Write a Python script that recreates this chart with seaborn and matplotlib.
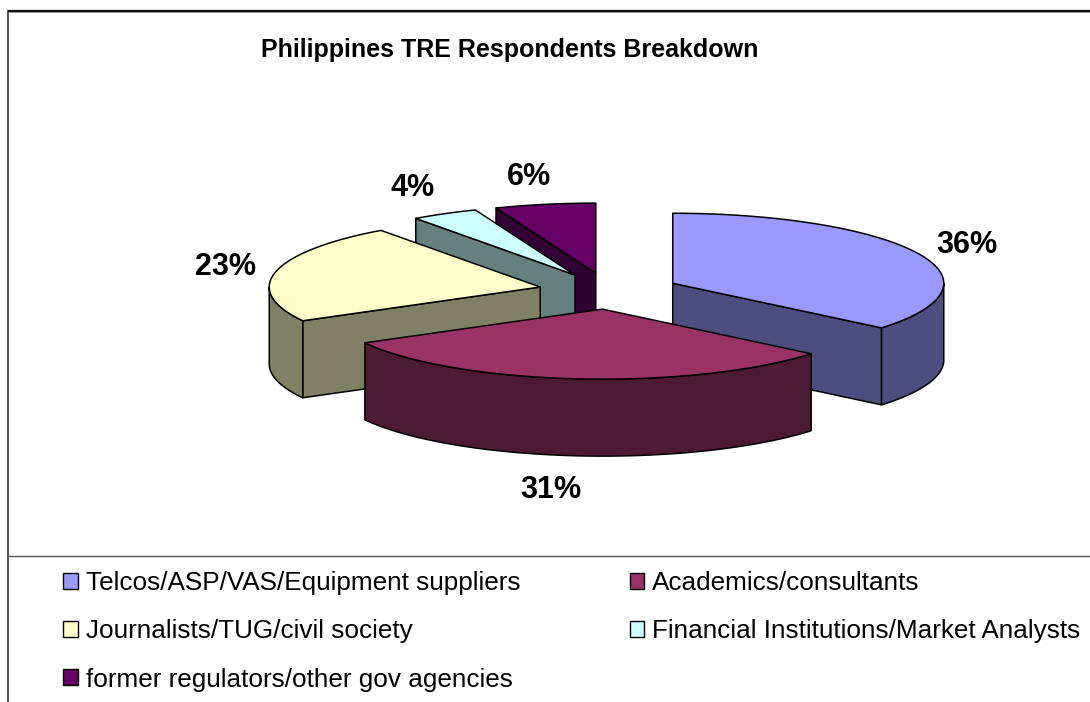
import numpy as np
import matplotlib
matplotlib.use("Agg")
import matplotlib.pyplot as plt
from matplotlib.patches import Polygon, Patch
from matplotlib.colors import to_rgb
import seaborn as sns

# ---- data -------------------------------------------------------------
title = "Philippines TRE Respondents Breakdown"
categories = [
    "Telcos/ASP/VAS/Equipment suppliers",
    "Academics/consultants",
    "Journalists/TUG/civil society",
    "Financial Institutions/Market Analysts",
    "former regulators/other gov agencies",
]
shares = [36, 31, 23, 4, 6]
top_colors = ["#9999FF", "#993366", "#FFFFCC", "#CCFFFF", "#660066"]

# ---- style ------------------------------------------------------------
sns.set_theme(style="white")
plt.rcParams["font.family"] = ["Liberation Sans", "DejaVu Sans"]
plt.rcParams["text.color"] = "black"

W, H = 1090, 702
fig = plt.figure(figsize=(W / 100, H / 100), dpi=100)
ax = fig.add_axes([0, 0, 1, 1])
ax.set_xlim(0, W)
ax.set_ylim(H, 0)
ax.axis("off")

# chart frame: plot area above, legend area below
ax.plot([8, W + 5], [10.5, 10.5], color="#111111", lw=1.6, solid_capstyle="butt")
ax.plot([8, W + 5], [12, 12], color="#888888", lw=0.6, solid_capstyle="butt")
ax.plot([8, 8], [10, H + 5], color="#222222", lw=1.1, solid_capstyle="butt")
ax.plot([8, W + 5], [556, 556], color="#555555", lw=1.0, solid_capstyle="butt")

ax.text(510, 50, title, ha="center", va="center", fontsize=18,
        fontweight="bold", color="black")

# ---- 3D exploded pie geometry ----------------------------------------
CX, CY = 609, 291          # pie centre (pixels)
RA, RB = 271, 70           # projected ellipse semi-axes
DEPTH = 77                 # thickness of the pie
EXPLODE = 0.26             # explode distance as fraction of radius
LPAD = 20                  # label distance outside the rim
EDGE = dict(edgecolor="black", linewidth=1.1, joinstyle="round")


def rim(cx, cy, t_deg, dz=0.0):
    t = np.radians(t_deg)
    return np.column_stack([cx + RA * np.cos(t), cy - RB * np.sin(t) + dz])


vals = np.asarray(shares, dtype=float)
sweep = vals / vals.sum() * 360.0
ends = 90.0 - np.cumsum(sweep)          # clockwise from 12 o'clock
starts = ends + sweep

slices = []
for i, (lo, hi) in enumerate(zip(ends, starts)):
    mid = np.radians((lo + hi) / 2)
    scx = CX + EXPLODE * RA * np.cos(mid)
    scy = CY - EXPLODE * RB * np.sin(mid)
    slices.append((i, lo, hi, mid, scx, scy))

# paint back slices first
slices.sort(key=lambda s: -np.sin(s[3]))

for i, lo, hi, mid, scx, scy in slices:
    face = top_colors[i]
    side = tuple(np.array(to_rgb(face)) * 0.5)
    centre_top = np.array([[scx, scy]])
    centre_bot = np.array([[scx, scy + DEPTH]])

    # radial cut walls that face the viewer
    for ang, visible in ((lo, np.cos(np.radians(lo)) > 1e-6),
                         (hi, np.cos(np.radians(hi)) < -1e-6)):
        if visible:
            p_top = rim(scx, scy, [ang])
            p_bot = rim(scx, scy, [ang], DEPTH)
            quad = np.vstack([centre_top, p_top, p_bot, centre_bot])
            ax.add_patch(Polygon(quad, closed=True, facecolor=side, **EDGE))

    # curved outer wall on the front half of the ellipse
    a0, a1 = max(lo, -180.0), min(hi, 0.0)
    if a1 > a0:
        ts = np.linspace(a0, a1, 120)
        wall = np.vstack([rim(scx, scy, ts), rim(scx, scy, ts[::-1], DEPTH)])
        ax.add_patch(Polygon(wall, closed=True, facecolor=side, **EDGE))

    # top face
    ts = np.linspace(lo, hi, 200)
    top = np.vstack([centre_top, rim(scx, scy, ts)])
    ax.add_patch(Polygon(top, closed=True, facecolor=face, **EDGE))

    # percentage label outside the rim along the bisector
    c, s = np.cos(mid), np.sin(mid)
    lx = scx + (RA + LPAD) * c
    ly = scy - (RB + LPAD) * s + DEPTH * max(0.0, -s)
    if abs(c) <= 0.3:
        # labels straight above / below the pie sit a little to the left
        lx -= 0.09 * RA * (1.0 if s < 0 else 0.5)
    ha = "left" if c > 0.3 else ("right" if c < -0.3 else "center")
    va = "baseline" if s > 0.5 else ("top" if s < -0.5 else "center")
    ax.text(lx, ly, f"{shares[i]:.0f}%", ha=ha, va=va, fontsize=22,
            fontweight="bold", color="black")

# ---- legend (row-major order across two columns) ----------------------
order = [0, 2, 4, 1, 3]
handles = [Patch(facecolor=top_colors[k], edgecolor="black", linewidth=1.0)
           for k in order]
labels = [categories[k] for k in order]
leg = ax.legend(handles, labels, ncol=2, loc="upper left",
                bbox_to_anchor=(63, 571), bbox_transform=ax.transData,
                frameon=False, fontsize=18.8, handlelength=0.56,
                handleheight=0.56, handletextpad=0.31, columnspacing=4.19,
                labelspacing=0.93, borderpad=0, borderaxespad=0)
for t in leg.get_texts():
    t.set_color("black")

fig.savefig("out.png", dpi=100)
